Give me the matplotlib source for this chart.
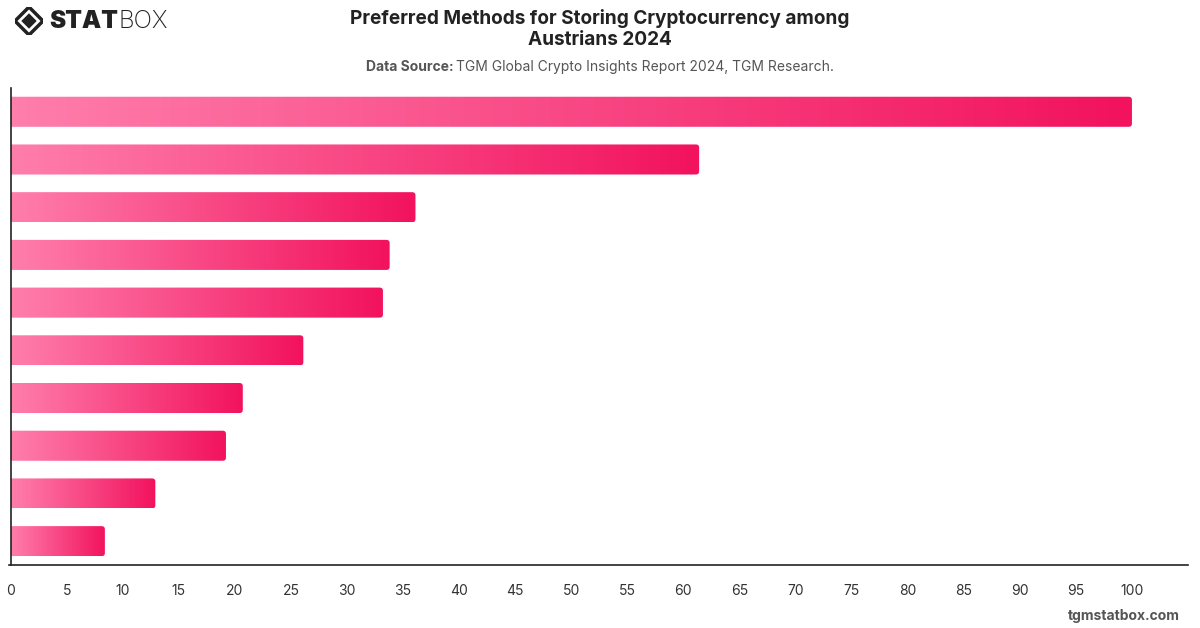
import numpy as np
import matplotlib
matplotlib.use("Agg")
import matplotlib.pyplot as plt
from matplotlib.patches import FancyBboxPatch, Polygon
from matplotlib.colors import LinearSegmentedColormap

# Data (top to bottom)
values = [100, 61.4, 36.1, 33.8, 33.2, 26.1, 20.7, 19.2, 12.9, 8.4]
xticks = list(range(0, 101, 5))

TITLE = "Preferred Methods for Storing Cryptocurrency among\nAustrians 2024"
SOURCE = "TGM Global Crypto Insights Report 2024, TGM Research."

C_LIGHT = "#FF7EAB"
C_DARK = "#F2125E"
C_TEXT = "#333333"
C_SUB = "#555555"

plt.rcParams["font.family"] = ["Inter", "DejaVu Sans"]

fig = plt.figure(figsize=(12, 6.28), dpi=100)
ax = fig.add_axes([0.0075, 0.1003, 0.9825, 0.7597])

y = np.arange(len(values))
bars = ax.barh(y, values, height=0.63, color="none", edgecolor="none")

cmap = LinearSegmentedColormap.from_list("pink", [C_LIGHT, C_DARK])
grad = np.linspace(0, 1, 256).reshape(1, -1)
for b in bars:
    x0, y0 = b.get_x(), b.get_y()
    w, h = b.get_width(), b.get_height()
    box = FancyBboxPatch((x0 - 1, y0), w + 1, h,
                         boxstyle="round,pad=0,rounding_size=0.3",
                         mutation_aspect=0.22, fc="none", ec="none",
                         transform=ax.transData)
    ax.add_patch(box)
    im = ax.imshow(grad, cmap=cmap, aspect="auto", interpolation="bicubic",
                   extent=(x0, x0 + w, y0 + h, y0), zorder=2)
    im.set_clip_path(box)

ax.set_xlim(-0.15, 105)
ax.set_ylim(len(values) - 0.5, -0.5)

ax.set_xticks(xticks)
ax.set_xticklabels([str(t) for t in xticks])
ax.set_yticks([])
ax.tick_params(axis="x", length=0, pad=14, labelsize=10, labelcolor=C_TEXT)
for s in ["top", "right"]:
    ax.spines[s].set_visible(False)
for s in ["left", "bottom"]:
    ax.spines[s].set_color("#222222")
    ax.spines[s].set_linewidth(1.2)
ax.spines["left"].set_position(("data", 0))

# Title & subtitle
fig.text(0.5, 1 - 29 / 628, TITLE, ha="center", va="center",
         fontsize=13.7, fontweight="bold", color="#222222", linespacing=1.25)
renderer = fig.canvas.get_renderer()
t1 = fig.text(0.5, 1 - 67 / 628, "Data Source: ", ha="right", va="center",
              fontsize=10, fontweight="bold", color=C_SUB)
t2 = fig.text(0.5, 1 - 67 / 628, SOURCE, ha="left", va="center",
              fontsize=10, color=C_SUB)
w1 = t1.get_window_extent(renderer=renderer).width
w2 = t2.get_window_extent(renderer=renderer).width
shift = (w1 - w2) / 2 / 1200
t1.set_x(0.5 + shift)
t2.set_x(0.5 + shift)

# Logo
icon = fig.add_axes([15 / 1200, 1 - 35 / 628, 28 / 1200, 28 / 628])
icon.set_xlim(-1, 1)
icon.set_ylim(-1, 1)
icon.axis("off")
icon.add_patch(Polygon([[0, 1], [1, 0], [0, -1], [-1, 0]], closed=True,
                       fc="none", ec="#222222", lw=2.5))
icon.add_patch(Polygon([[0, 0.55], [0.55, 0], [0, -0.55], [-0.55, 0]],
                       closed=True, fc="#222222", ec="none"))
s1 = fig.text(49 / 1200, 1 - 22 / 628, "STAT", ha="left", va="center",
              fontsize=17.5, fontweight="black", color="#222222")
ws = s1.get_window_extent(renderer=renderer).width
fig.text((49 + ws + 1) / 1200, 1 - 22 / 628, "BOX", ha="left", va="center",
         fontsize=17.5, fontweight="light", color="#222222")

# Watermark
fig.text(1180 / 1200, 1 - 616 / 628, "tgmstatbox.com", ha="right",
         va="center", fontsize=10, fontweight="bold", color="#555555")

fig.savefig("out.png", dpi=100)
